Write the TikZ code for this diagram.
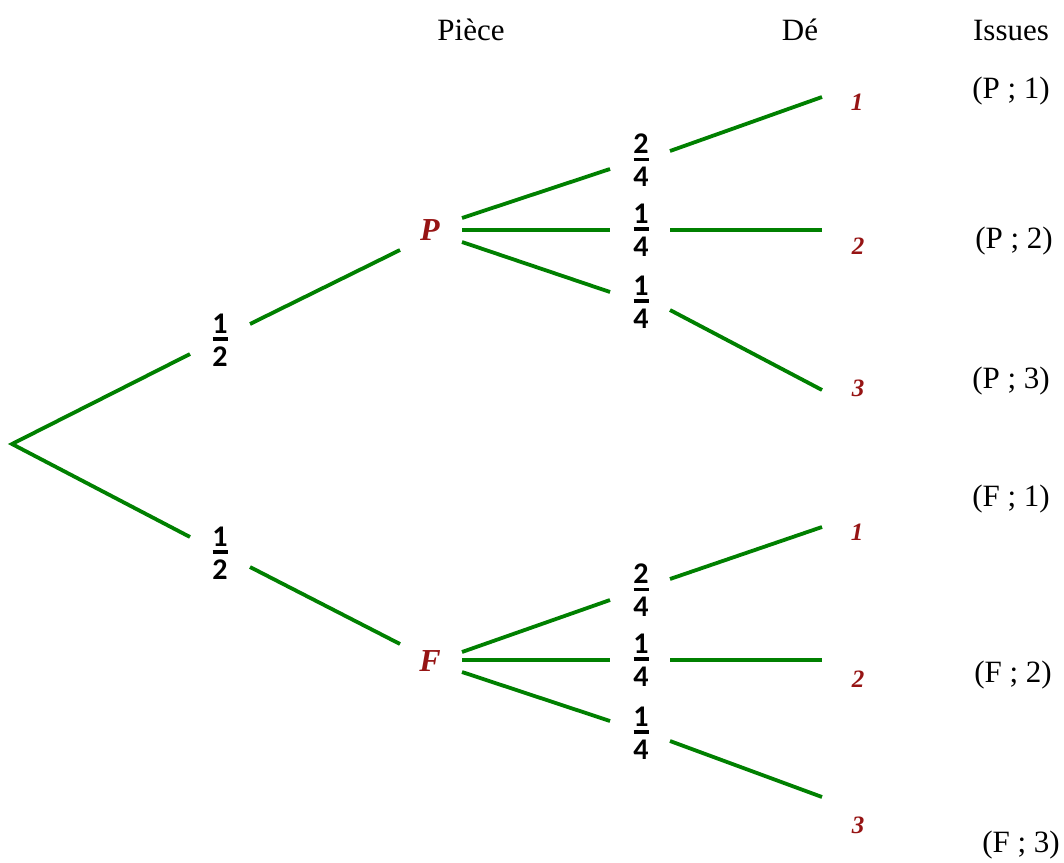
\documentclass[tikz,border=0pt]{standalone}
\usepackage{fontspec}
\setmainfont{Liberation Serif}
\newfontfamily\fracfont{Carlito}
\definecolor{branchgreen}{RGB}{0,128,0}
\definecolor{evtred}{RGB}{150,20,20}
\newcommand{\fr}[2]{\vbox{\offinterlineskip\halign{\hfil##\hfil\cr\rule{0pt}{19pt}#1\cr\noalign{\kern4pt}\rule{15pt}{3.2pt}\cr\noalign{\kern6pt}\rule{0pt}{19pt}#2\cr}}}
\tikzset{
  branchline/.style={draw=branchgreen, line width=3.8pt},
  fraclabel/.style={inner sep=0pt, font=\fracfont\bfseries\fontsize{30}{34}\selectfont},
  evtnode/.style={inner sep=0pt, text=evtred, font=\bfseries\itshape\fontsize{32}{36}\selectfont},
  leafnode/.style={inner sep=0pt, text=evtred, font=\bfseries\itshape\fontsize{25}{29}\selectfont},
  txtlabel/.style={inner sep=0pt, font=\fontsize{31}{36}\selectfont},
}
\begin{document}
\begin{tikzpicture}[x=1pt,y=-1pt]
\useasboundingbox (0,0) rectangle (1064,862);
% headers
\node[txtlabel, anchor=base] (hpiece) at (471,40) {Pièce};
\node[txtlabel, anchor=base] (hde) at (800,40) {Dé};
\node[txtlabel, anchor=base] (hissues) at (1011,40) {Issues};
% outcomes
\node[txtlabel] (o1) at (1011,91) {(P ; 1)};
\node[txtlabel] (o2) at (1014,241) {(P ; 2)};
\node[txtlabel] (o3) at (1011,381) {(P ; 3)};
\node[txtlabel] (o4) at (1011,499) {(F ; 1)};
\node[txtlabel] (o5) at (1013,675) {(F ; 2)};
\node[txtlabel] (o6) at (1021,845) {(F ; 3)};
% events
\node[evtnode] (P) at (430,230) {P};
\node[evtnode] (F) at (430,661) {F};
% leaves
\node[leafnode] (lp1) at (857,102) {1};
\node[leafnode] (lp2) at (858,246) {2};
\node[leafnode] (lp3) at (858,388) {3};
\node[leafnode] (lf1) at (857,532) {1};
\node[leafnode] (lf2) at (858,679) {2};
\node[leafnode] (lf3) at (858,825) {3};
% probabilities
\node[fraclabel] (hp) at (220,340) {\fr{1}{2}};
\node[fraclabel] (hf) at (220,553) {\fr{1}{2}};
\node[fraclabel] (pp1) at (641,160) {\fr{2}{4}};
\node[fraclabel] (pp2) at (641,230) {\fr{1}{4}};
\node[fraclabel] (pp3) at (641,302) {\fr{1}{4}};
\node[fraclabel] (fp1) at (641,590) {\fr{2}{4}};
\node[fraclabel] (fp2) at (641,660) {\fr{1}{4}};
\node[fraclabel] (fp3) at (641,733) {\fr{1}{4}};
% segment ends
\coordinate (root) at (12,444);
\coordinate (a1) at (190,354);
\coordinate (a2) at (250,324);
\coordinate (a3) at (400,250);
\coordinate (b1) at (190,537);
\coordinate (b2) at (250,567);
\coordinate (b3) at (400,644);
\coordinate (p1s) at (462,218); \coordinate (p1e) at (610,169);
\coordinate (p1r) at (670,151); \coordinate (p1t) at (822,97);
\coordinate (p2s) at (462,230); \coordinate (p2e) at (610,230);
\coordinate (p2r) at (670,230); \coordinate (p2t) at (822,230);
\coordinate (p3s) at (462,242); \coordinate (p3e) at (610,292);
\coordinate (p3r) at (670,310); \coordinate (p3t) at (822,390);
\coordinate (f1s) at (462,652); \coordinate (f1e) at (610,600);
\coordinate (f1r) at (670,579); \coordinate (f1t) at (822,527);
\coordinate (f2s) at (462,660); \coordinate (f2e) at (610,660);
\coordinate (f2r) at (670,660); \coordinate (f2t) at (822,660);
\coordinate (f3s) at (462,672); \coordinate (f3e) at (610,721);
\coordinate (f3r) at (670,741); \coordinate (f3t) at (822,797);
% branches
\draw[branchline] (a1) -- (root) -- (b1);
\draw[branchline] (a2) -- (a3);
\draw[branchline] (b2) -- (b3);
\draw[branchline] (p1s) -- (p1e);
\draw[branchline] (p1r) -- (p1t);
\draw[branchline] (p2s) -- (p2e);
\draw[branchline] (p2r) -- (p2t);
\draw[branchline] (p3s) -- (p3e);
\draw[branchline] (p3r) -- (p3t);
\draw[branchline] (f1s) -- (f1e);
\draw[branchline] (f1r) -- (f1t);
\draw[branchline] (f2s) -- (f2e);
\draw[branchline] (f2r) -- (f2t);
\draw[branchline] (f3s) -- (f3e);
\draw[branchline] (f3r) -- (f3t);
\end{tikzpicture}
\end{document}
